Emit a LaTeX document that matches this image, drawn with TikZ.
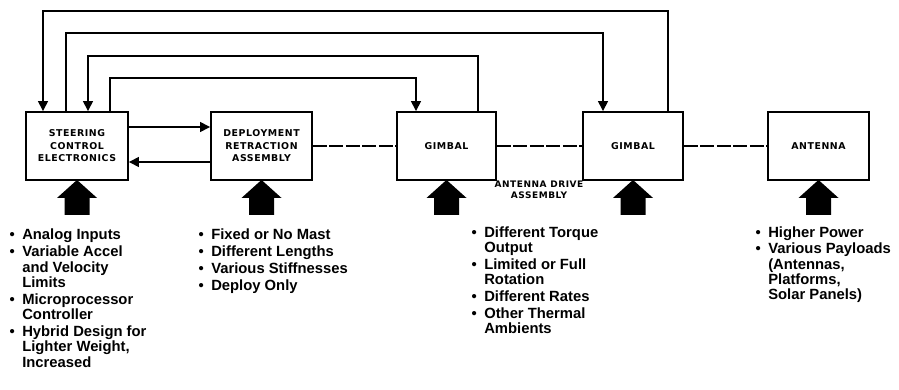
\documentclass[tikz,border=0pt]{standalone}
\usepackage{fontspec}
\setmainfont{Liberation Sans}
\newfontfamily\boxfont{DejaVu Sans}[LetterSpace=6]
\usetikzlibrary{arrows.meta}
\tikzset{
  blk/.style={draw, line width=1.9pt, minimum height=68pt, inner sep=0pt,
    font=\boxfont\bfseries\fontsize{9.4}{12.5}\selectfont, align=center},
  fbarrow/.style={line width=1.5pt, -{Triangle[width=10pt,length=10pt]}},
  dashline/.style={line width=1.5pt, dash pattern=on 14pt off 2.5pt},
  listtext/.style={inner sep=0pt, anchor=base west,
    font=\bfseries\fontsize{14.8}{15.3}\selectfont},
  bigarrow/.pic={\fill (0,-1) -- (20,17) -- (12.5,17) -- (12.5,34) -- (-12.5,34) -- (-12.5,17) -- (-20,17) -- cycle;}
}
\newcommand{\bul}{\textbullet}
\begin{document}
\begin{tikzpicture}[x=1pt,y=-1pt]
\useasboundingbox (0,0) rectangle (899,390);
% boxes
\node[blk, minimum width=102pt] (sce) at (77,146) {STEERING\\CONTROL\\ELECTRONICS};
\node[blk, minimum width=101pt] (dra) at (261.5,146) {DEPLOYMENT\\RETRACTION\\ASSEMBLY};
\node[blk, minimum width=99pt] (g1) at (446.5,146) {GIMBAL};
\node[blk, minimum width=100pt] (g2) at (633,146) {GIMBAL};
\node[blk, minimum width=101pt] (ant) at (818.5,146) {ANTENNA};
% route levels
\coordinate (r1) at (0,11);
\coordinate (r2) at (0,33);
\coordinate (r3) at (0,56);
\coordinate (r4) at (0,78);
% feedback / command lines
\draw[fbarrow] ([xshift=35pt]g2.north) coordinate (a1) -- (a1 |- r1) -| ([xshift=-34pt]sce.north);
\draw[fbarrow] ([xshift=-11pt]sce.north) coordinate (a2) -- (a2 |- r2) -| ([xshift=-30pt]g2.north);
\draw[fbarrow] ([xshift=31.5pt]g1.north) coordinate (a3) -- (a3 |- r3) -| ([xshift=11pt]sce.north);
\draw[fbarrow] ([xshift=33pt]sce.north) coordinate (a4) -- (a4 |- r4) -| ([xshift=-30.5pt]g1.north);
% horizontal arrows
\draw[fbarrow] ([yshift=19pt]sce.east) -- ([yshift=19pt]dra.west);
\draw[fbarrow] ([yshift=-16pt]dra.west) -- ([yshift=-16pt]sce.east);
% dashed mechanical links
\draw[dashline] (dra) -- (g1);
\draw[dashline] (g1) -- (g2);
\draw[dashline] (g2) -- (ant);
% big input arrows
\pic at (sce.south) {bigarrow};
\pic at (dra.south) {bigarrow};
\pic at (g1.south) {bigarrow};
\pic at (g2.south) {bigarrow};
\pic at (ant.south) {bigarrow};
% label
\node[font=\boxfont\bfseries\fontsize{9}{11}\selectfont, align=center, inner sep=0pt] (ada) at (539,190) {ANTENNA DRIVE\\ASSEMBLY};
% lists
\node[listtext] (l1) at (9.4,240) {\begin{tabular}[t]{@{}l@{\hspace{7.5pt}}l@{}}
\bul & Analog Inputs\\[1.5pt]
\bul & Variable Accel\\
 & and Velocity\\
 & Limits\\[1.5pt]
\bul & Microprocessor\\
 & Controller\\[1.5pt]
\bul & Hybrid Design for\\
 & Lighter Weight,\\
 & Increased
\end{tabular}};
\node[listtext] (l2) at (198.4,240) {\begin{tabular}[t]{@{}l@{\hspace{7.5pt}}l@{}}
\bul & Fixed or No Mast\\[1.5pt]
\bul & Different Lengths\\[1.5pt]
\bul & Various Stiffnesses\\[1.5pt]
\bul & Deploy Only
\end{tabular}};
\node[listtext] (l3) at (471.4,237) {\begin{tabular}[t]{@{}l@{\hspace{7.5pt}}l@{}}
\bul & Different Torque\\
 & Output\\[1.5pt]
\bul & Limited or Full\\
 & Rotation\\[1.5pt]
\bul & Different Rates\\[1.5pt]
\bul & Other Thermal\\
 & Ambients
\end{tabular}};
\node[listtext] (l4) at (755.4,237) {\begin{tabular}[t]{@{}l@{\hspace{7.5pt}}l@{}}
\bul & Higher Power\\[1.5pt]
\bul & Various Payloads\\
 & (Antennas,\\
 & Platforms,\\
 & Solar Panels)
\end{tabular}};
\end{tikzpicture}
\end{document}
